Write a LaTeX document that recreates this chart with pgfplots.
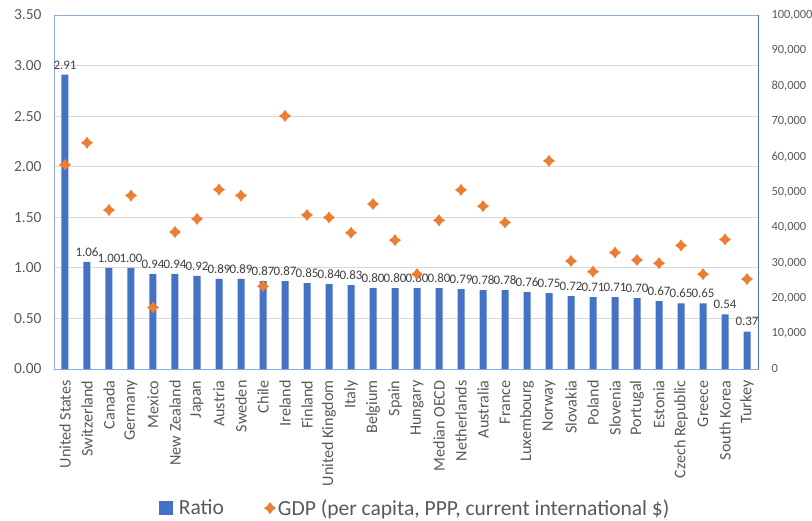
\documentclass[border=0pt]{standalone}
\usepackage{pgfplots}
\pgfplotsset{compat=1.18}
\usepackage{pgfplotstable}
\usepackage{fontspec}
\setmainfont{Carlito}
\definecolor{barblue}{HTML}{4472C4}
\definecolor{gdporange}{HTML}{ED7D31}
\definecolor{ticklab}{HTML}{595959}
\definecolor{datalab}{HTML}{404040}
\definecolor{gridc}{HTML}{D9D9D9}
\definecolor{lightframe}{HTML}{8FAADC}

\pgfdeclareplotmark{gdpstar}{%
  \pgfpathmoveto{\pgfqpoint{0pt}{\pgfplotmarksize}}%
  \pgfpathlineto{\pgfqpoint{0.42\pgfplotmarksize}{0.42\pgfplotmarksize}}%
  \pgfpathlineto{\pgfqpoint{\pgfplotmarksize}{0pt}}%
  \pgfpathlineto{\pgfqpoint{0.42\pgfplotmarksize}{-0.42\pgfplotmarksize}}%
  \pgfpathlineto{\pgfqpoint{0pt}{-\pgfplotmarksize}}%
  \pgfpathlineto{\pgfqpoint{-0.42\pgfplotmarksize}{-0.42\pgfplotmarksize}}%
  \pgfpathlineto{\pgfqpoint{-\pgfplotmarksize}{0pt}}%
  \pgfpathlineto{\pgfqpoint{-0.42\pgfplotmarksize}{0.42\pgfplotmarksize}}%
  \pgfpathclose
  \pgfusepathqfill}

\pgfplotstableread{
idx ratio
0 2.91
1 1.06
2 1.00
3 1.00
4 0.94
5 0.94
6 0.92
7 0.89
8 0.89
9 0.87
10 0.87
11 0.85
12 0.84
13 0.83
14 0.80
15 0.80
16 0.80
17 0.80
18 0.79
19 0.78
20 0.78
21 0.76
22 0.75
23 0.72
24 0.71
25 0.71
26 0.70
27 0.67
28 0.65
29 0.65
30 0.54
31 0.37
}\ratiodata

\pgfplotstableread{
idx gdp
0 57700
1 63900
2 44900
3 49000
4 17400
5 38700
6 42400
7 50700
8 49000
9 23400
10 71500
11 43500
12 42800
13 38500
14 46600
15 36400
16 26800
17 42000
18 50600
19 46000
20 41400
22 58800
23 30500
24 27500
25 32900
26 30800
27 29900
28 34900
29 26800
30 36600
31 25400
}\gdpdata

\begin{document}
\begin{tikzpicture}
\useasboundingbox (-54bp,-152bp) rectangle (758bp,369bp);
\begin{axis}[
  scale only axis, width=704bp, height=354bp,
  xmin=-0.5, xmax=31.5, ymin=0, ymax=3.5,
  xtick={0,...,31},
  xticklabels={United States,Switzerland,Canada,Germany,Mexico,New Zealand,Japan,Austria,Sweden,Chile,Ireland,Finland,United Kingdom,Italy,Belgium,Spain,Hungary,Median OECD,Netherlands,Australia,France,Luxembourg,Norway,Slovakia,Poland,Slovenia,Portugal,Estonia,Czech Republic,Greece,South Korea,Turkey},
  xticklabel style={rotate=90, anchor=east, font=\fontsize{16.2}{18}\selectfont, text=ticklab},
  xticklabel shift=8bp,
  ytick={0,0.5,1,1.5,2,2.5,3,3.5},
  yticklabel style={font=\fontsize{15.5}{17}\selectfont, text=ticklab, xshift=-9bp, /pgf/number format/.cd, fixed, fixed zerofill, precision=2, assume math mode=true},
  ymajorgrids, grid style={gridc, line width=0.8pt},
  axis line style={lightframe, line width=0.9pt},
  major tick length=0pt,
  nodes near coords,
  every node near coord/.append style={font=\fontsize{13}{15}\selectfont, text=datalab, yshift=2bp, /pgf/number format/.cd, fixed, fixed zerofill, precision=2, assume math mode=true},
  nodes near coords align={vertical},
]
\addplot[ybar, bar width=7bp, fill=barblue, draw=none] table[x=idx, y=ratio] {\ratiodata};
\end{axis}
\begin{axis}[
  scale only axis, width=704bp, height=354bp,
  xmin=-0.5, xmax=31.5, ymin=0, ymax=100000,
  axis x line=none,
  axis y line*=right,
  axis line style={barblue, line width=0.9pt},
  ytick={0,10000,...,100000},
  scaled y ticks=false,
  yticklabel style={font=\fontsize{12.5}{14}\selectfont, text=ticklab, xshift=10bp, /pgf/number format/.cd, fixed, 1000 sep={,}, assume math mode=true},
  major tick length=0pt,
  legend columns=2,
  legend style={at={(0.513,-0.393)}, anchor=center, draw=none, fill=none, font=\fontsize{21.6}{23}\selectfont, text=ticklab, /tikz/every even column/.append style={column sep=38bp}},
]
\addlegendimage{legend image code/.code={\path[draw=none, fill=none] (0bp,0bp) rectangle (18bp,1bp); \fill[barblue, draw=none] (0bp,-7bp) rectangle (14bp,7bp);}}
\addlegendentry{Ratio}
\addplot[only marks, mark=gdpstar, mark size=6bp, color=gdporange] table[x=idx, y=gdp] {\gdpdata};
\addlegendentry{GDP (per capita, PPP, current international \$)}
\end{axis}
\end{tikzpicture}
\end{document}
